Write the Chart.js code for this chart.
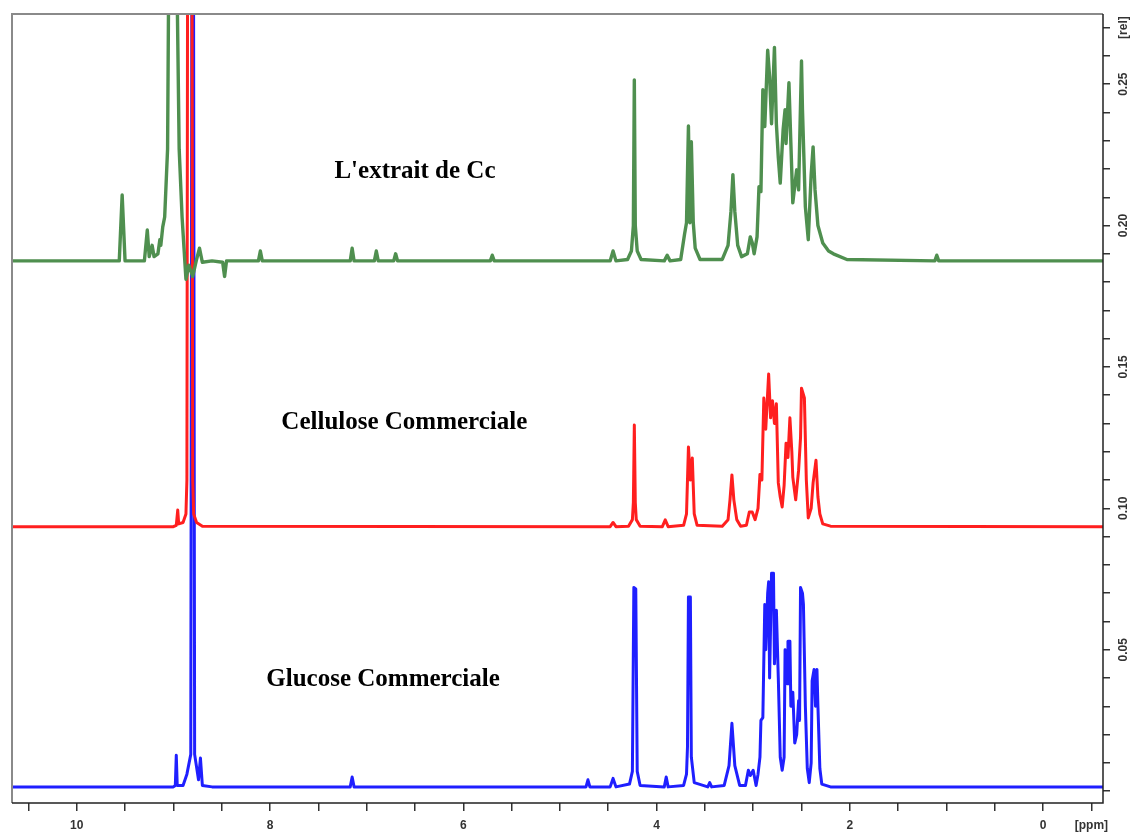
<!DOCTYPE html>
<html>
<head>
<meta charset="utf-8">
<script src="https://cdn.jsdelivr.net/npm/chart.js@4.4.1/dist/chart.umd.min.js"></script>
<style>
  html, body { margin: 0; padding: 0; background: #fff; }
</style>
</head>
<body>
<canvas id="id-canvas" width="1130" height="832"></canvas>
<script>
var ppm_extrait = [10.67, 9.56, 9.53, 9.50, 9.30, 9.27, 9.25, 9.22, 9.20, 9.16, 9.14, 9.13, 9.11, 9.09, 9.06, 9.05, 9.01, 8.96, 8.94, 8.91, 8.89, 8.87, 8.84, 8.80, 8.76, 8.73, 8.70, 8.60, 8.49, 8.47, 8.45, 8.12, 8.10, 8.08, 7.17, 7.15, 7.13, 6.92, 6.90, 6.88, 6.72, 6.70, 6.68, 5.72, 5.70, 5.68, 4.48, 4.45, 4.42, 4.30, 4.26, 4.24, 4.23, 4.22, 4.20, 4.16, 3.92, 3.89, 3.86, 3.75, 3.71, 3.69, 3.67, 3.655, 3.64, 3.62, 3.60, 3.55, 3.32, 3.26, 3.23, 3.21, 3.19, 3.16, 3.12, 3.06, 3.03, 3.01, 2.99, 2.96, 2.94, 2.92, 2.90, 2.88, 2.85, 2.83, 2.81, 2.78, 2.76, 2.74, 2.72, 2.69, 2.67, 2.66, 2.63, 2.61, 2.59, 2.55, 2.53, 2.50, 2.49, 2.46, 2.43, 2.40, 2.38, 2.36, 2.33, 2.28, 2.22, 2.17, 2.03, 1.12, 1.10, 1.08, -0.62];
var int_extrait = [0.1875, 0.1875, 0.2108, 0.1875, 0.1875, 0.1984, 0.189, 0.193, 0.189, 0.190, 0.195, 0.193, 0.1995, 0.203, 0.227, 0.28, 0.34, 0.28, 0.227, 0.203, 0.192, 0.181, 0.186, 0.182, 0.188, 0.192, 0.187, 0.1875, 0.187, 0.182, 0.1875, 0.1875, 0.191, 0.1875, 0.1875, 0.192, 0.1875, 0.1875, 0.191, 0.1875, 0.1875, 0.190, 0.1875, 0.1875, 0.1895, 0.1875, 0.1875, 0.191, 0.1875, 0.188, 0.191, 0.200, 0.2515, 0.200, 0.191, 0.188, 0.1875, 0.1895, 0.1875, 0.188, 0.197, 0.201, 0.2352, 0.201, 0.2296, 0.201, 0.192, 0.188, 0.188, 0.193, 0.205, 0.218, 0.205, 0.193, 0.189, 0.190, 0.196, 0.194, 0.190, 0.196, 0.2137, 0.212, 0.248, 0.235, 0.262, 0.2526, 0.236, 0.263, 0.236, 0.224, 0.215, 0.234, 0.241, 0.229, 0.2505, 0.229, 0.208, 0.2197, 0.2126, 0.2582, 0.241, 0.2066, 0.195, 0.218, 0.2278, 0.2126, 0.200, 0.1938, 0.191, 0.190, 0.188, 0.1875, 0.1895, 0.1875, 0.1875];

var ppm_cellulose = [10.67, 9.00, 8.97, 8.955, 8.945, 8.90, 8.87, 8.86, 8.845, 8.815, 8.80, 8.79, 8.76, 8.70, 4.48, 4.45, 4.42, 4.29, 4.25, 4.24, 4.23, 4.22, 4.21, 4.17, 3.94, 3.91, 3.88, 3.72, 3.69, 3.67, 3.65, 3.63, 3.61, 3.58, 3.32, 3.26, 3.24, 3.22, 3.20, 3.17, 3.13, 3.07, 3.04, 3.01, 2.98, 2.95, 2.93, 2.91, 2.89, 2.87, 2.84, 2.82, 2.80, 2.78, 2.76, 2.74, 2.72, 2.70, 2.68, 2.66, 2.64, 2.62, 2.60, 2.59, 2.56, 2.53, 2.51, 2.50, 2.47, 2.45, 2.43, 2.40, 2.38, 2.35, 2.33, 2.31, 2.28, 2.20, -0.62];
var int_cellulose = [0.0935, 0.0935, 0.094, 0.0994, 0.0945, 0.095, 0.098, 0.11, 0.5, 0.5, 0.11, 0.098, 0.095, 0.0937, 0.0935, 0.095, 0.0935, 0.0937, 0.096, 0.102, 0.1295, 0.102, 0.096, 0.0937, 0.0935, 0.0959, 0.0935, 0.094, 0.098, 0.1217, 0.110, 0.1178, 0.098, 0.094, 0.0937, 0.096, 0.103, 0.1118, 0.103, 0.096, 0.0937, 0.094, 0.0987, 0.0987, 0.096, 0.100, 0.112, 0.110, 0.139, 0.128, 0.1475, 0.132, 0.138, 0.130, 0.137, 0.109, 0.104, 0.1005, 0.108, 0.123, 0.118, 0.132, 0.120, 0.111, 0.103, 0.1135, 0.125, 0.1425, 0.139, 0.110, 0.0966, 0.100, 0.109, 0.117, 0.104, 0.098, 0.0945, 0.0937, 0.0935];

var ppm_glucose = [10.67, 9.00, 8.98, 8.97, 8.96, 8.90, 8.86, 8.82, 8.80, 8.78, 8.74, 8.72, 8.70, 8.60, 7.17, 7.15, 7.13, 4.73, 4.71, 4.69, 4.48, 4.45, 4.42, 4.28, 4.25, 4.235, 4.215, 4.20, 4.17, 3.92, 3.90, 3.88, 3.72, 3.69, 3.68, 3.67, 3.65, 3.64, 3.61, 3.47, 3.45, 3.43, 3.30, 3.25, 3.22, 3.19, 3.14, 3.08, 3.05, 3.03, 3.00, 2.97, 2.95, 2.93, 2.92, 2.90, 2.88, 2.87, 2.85, 2.84, 2.83, 2.81, 2.79, 2.78, 2.76, 2.74, 2.72, 2.70, 2.68, 2.67, 2.65, 2.64, 2.62, 2.61, 2.59, 2.57, 2.55, 2.53, 2.52, 2.51, 2.49, 2.48, 2.46, 2.44, 2.42, 2.40, 2.39, 2.37, 2.355, 2.34, 2.33, 2.31, 2.29, 2.20, -0.62];
var int_glucose = [0.0015, 0.0015, 0.002, 0.0127, 0.002, 0.002, 0.006, 0.013, 0.5, 0.013, 0.004, 0.0117, 0.002, 0.0015, 0.0015, 0.005, 0.0015, 0.0015, 0.004, 0.0015, 0.0015, 0.0045, 0.0015, 0.0025, 0.007, 0.072, 0.0715, 0.007, 0.002, 0.0015, 0.005, 0.0015, 0.002, 0.006, 0.0155, 0.0686, 0.0686, 0.012, 0.003, 0.0015, 0.003, 0.0015, 0.002, 0.009, 0.024, 0.009, 0.002, 0.002, 0.0074, 0.0055, 0.0074, 0.002, 0.006, 0.012, 0.025, 0.026, 0.066, 0.050, 0.070, 0.074, 0.040, 0.077, 0.077, 0.045, 0.064, 0.040, 0.012, 0.0074, 0.012, 0.050, 0.038, 0.053, 0.053, 0.030, 0.035, 0.017, 0.020, 0.032, 0.025, 0.072, 0.070, 0.066, 0.030, 0.008, 0.003, 0.010, 0.039, 0.043, 0.030, 0.043, 0.030, 0.008, 0.0025, 0.0015, 0.0015];

var series_names = ["L'extrait de Cc", "Cellulose Commerciale", "Glucose Commerciale"];

// etiquettes des axes
var x_label_pos = [10, 8, 6, 4, 2, 0, -0.5];
var x_label_txt = ['10', '8', '6', '4', '2', '0', '[ppm]'];
var y_label_pos = [0.05, 0.10, 0.15, 0.20, 0.25, 0.27];
var y_label_txt = ['0.05', '0.10', '0.15', '0.20', '0.25', '[rel]'];

function pts(xs, ys) {
  return xs.map(function(x, i) { return {x: x, y: ys[i]}; });
}
function findLabel(v, pos, txt) {
  for (var i = 0; i < pos.length; i++) {
    if (Math.abs(v - pos[i]) < 1e-6) return txt[i];
  }
  return '';
}

// cadre autour de la zone du spectre
var framePlugin = {
  id: 'frame',
  afterDatasetsDraw: function(chart) {
    var a = chart.chartArea, ctx = chart.ctx;
    ctx.save();
    ctx.lineWidth = 2;
    ctx.strokeStyle = '#8a8a8a';
    ctx.beginPath();
    ctx.moveTo(a.left, a.bottom);
    ctx.lineTo(a.left, a.top);
    ctx.lineTo(a.right, a.top);
    ctx.stroke();
    ctx.strokeStyle = '#222';
    ctx.lineWidth = 1.5;
    ctx.beginPath();
    ctx.moveTo(a.right, a.top);
    ctx.lineTo(a.right, a.bottom);
    ctx.lineTo(a.left, a.bottom);
    ctx.stroke();
    ctx.restore();
  }
};

// textes : noms des spectres et etiquettes tournees de l'axe de droite
var textPlugin = {
  id: 'texts',
  afterDraw: function(chart, args, opts) {
    var ctx = chart.ctx, xs = chart.scales.x, ys = chart.scales.y;
    ctx.save();
    ctx.fillStyle = '#000';
    ctx.font = 'bold 25px "Liberation Serif", "Times New Roman", serif';
    ctx.textAlign = 'center';
    ctx.textBaseline = 'middle';
    series_names.forEach(function(name, i) {
      ctx.fillText(name, xs.getPixelForValue(opts.at[i][0]), ys.getPixelForValue(opts.at[i][1]));
    });
    ctx.font = 'bold 12px "Liberation Sans", Arial, sans-serif';
    ctx.fillStyle = '#333';
    y_label_pos.forEach(function(v, i) {
      ctx.save();
      ctx.translate(chart.chartArea.right + 21, ys.getPixelForValue(v));
      ctx.rotate(-Math.PI / 2);
      ctx.fillText(y_label_txt[i], 0, 0);
      ctx.restore();
    });
    ctx.restore();
  }
};

(function() {
  var ctx = document.getElementById('id-canvas').getContext('2d');
  var common = { pointRadius: 0, fill: false, tension: 0, clip: 0, borderJoinStyle: 'round', borderCapStyle: 'round' };

  window.spectre = new Chart(ctx, {
    type: 'line',
    data: {
      datasets: [
        Object.assign({ label: series_names[0], data: pts(ppm_extrait, int_extrait), borderColor: '#4f8f4f', borderWidth: 3.4 }, common),
        Object.assign({ label: series_names[1], data: pts(ppm_cellulose, int_cellulose), borderColor: '#ff1f1f', borderWidth: 3 }, common),
        Object.assign({ label: series_names[2], data: pts(ppm_glucose, int_glucose), borderColor: '#1f1fff', borderWidth: 3 }, common)
      ]
    },
    plugins: [framePlugin, textPlugin],
    options: {
      responsive: false,
      animation: false,
      layout: { padding: { left: 12, top: 14, right: 0, bottom: 0 } },
      plugins: {
        legend: { display: false },
        tooltip: { enabled: false },
        texts: { at: [[6.50, 0.2190], [6.61, 0.1302], [6.83, 0.0396]] }
      },
      scales: {
        x: {
          type: 'linear',
          reverse: true,
          min: -0.62,
          max: 10.67,
          afterBuildTicks: function(scale) {
            var t = [];
            for (var k = -1; k <= 21; k++) t.push({ value: k / 2 });
            scale.ticks = t;
          },
          afterFit: function(scale) { scale.height = 29; },
          grid: { drawOnChartArea: false, drawTicks: true, tickLength: 8, color: '#333', lineWidth: 1.5 },
          border: { display: false },
          ticks: {
            autoSkip: false,
            maxRotation: 0,
            padding: 7,
            color: '#333',
            font: { family: '"Liberation Sans", Arial, sans-serif', size: 12, weight: 'bold' },
            callback: function(v) { return findLabel(v, x_label_pos, x_label_txt); }
          }
        },
        y: {
          type: 'linear',
          position: 'right',
          min: -0.0042,
          max: 0.2748,
          afterBuildTicks: function(scale) {
            var t = [];
            for (var k = 0; k <= 27; k++) t.push({ value: k / 100 });
            scale.ticks = t;
          },
          afterFit: function(scale) { scale.width = 27; },
          grid: { drawOnChartArea: false, drawTicks: true, tickLength: 7, color: '#333', lineWidth: 1.5 },
          border: { display: false },
          ticks: { display: false }
        }
      }
    }
  });
})()
</script>
</body>
</html>
